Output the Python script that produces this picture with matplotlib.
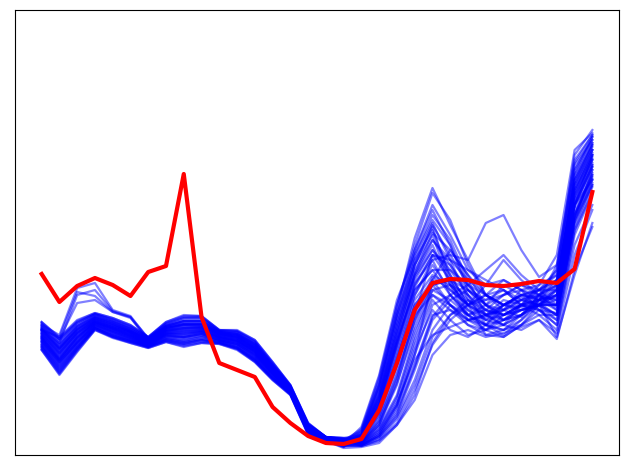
import numpy as np
import matplotlib
matplotlib.use("Agg")
import matplotlib.pyplot as plt

# time steps (32 samples)
steps = np.arange(32)

# target series (height units)
target = [181, 153, 169, 177, 170, 159, 183, 189, 281, 138, 92, 85, 78, 48, 32, 19,
          12, 11, 16, 45, 92, 145, 172, 176, 175, 170, 169, 171, 174, 172, 186, 263]

# ensemble of simulated runs
blue_runs = [
    [105, 80, 103, 125, 117, 112, 107, 113, 108, 112, 111, 105, 93, 75, 60, 20, 14, 7,
     8, 12, 30, 55, 100, 120, 125, 118, 122, 128, 135, 116, 185, 228],
    [106, 82, 105, 126, 118, 113, 108, 114, 110, 113, 112, 106, 94, 76, 61, 21, 14, 8,
     25, 75, 150, 210, 262, 235, 190, 160, 150, 160, 165, 180, 280, 312],
    [108, 84, 106, 127, 119, 114, 108, 115, 111, 115, 112, 107, 95, 77, 61, 22, 15, 9,
     10, 18, 38, 75, 125, 150, 140, 125, 118, 130, 145, 130, 210, 250],
    [109, 86, 108, 127, 120, 115, 109, 116, 113, 116, 113, 108, 96, 77, 62, 22, 15, 10,
     15, 45, 100, 160, 190, 165, 150, 140, 155, 150, 155, 160, 260, 295],
    [110, 88, 109, 128, 121, 115, 109, 117, 114, 118, 114, 109, 97, 78, 62, 23, 15, 10,
     9, 15, 32, 65, 110, 135, 150, 160, 165, 150, 140, 125, 220, 262],
    [112, 90, 111, 129, 122, 116, 110, 118, 116, 119, 114, 110, 98, 80, 62, 23, 15, 11,
     28, 80, 155, 200, 240, 215, 175, 140, 135, 145, 150, 165, 270, 305],
    [113, 92, 113, 130, 123, 117, 110, 119, 118, 121, 115, 111, 99, 81, 63, 24, 15, 11,
     14, 40, 90, 150, 175, 150, 130, 125, 135, 145, 150, 150, 245, 285],
    [115, 94, 114, 131, 124, 118, 111, 120, 119, 122, 116, 112, 101, 82, 63, 25, 16, 12,
     10, 20, 45, 90, 140, 145, 130, 120, 125, 135, 150, 140, 230, 270],
    [116, 95, 116, 132, 125, 119, 111, 121, 121, 123, 117, 113, 102, 82, 64, 25, 16, 12,
     22, 70, 140, 195, 225, 180, 150, 170, 195, 175, 160, 170, 275, 310],
    [118, 97, 117, 132, 126, 120, 112, 122, 122, 124, 117, 114, 103, 83, 64, 26, 16, 12,
     16, 50, 110, 170, 200, 175, 145, 135, 150, 160, 158, 155, 250, 290],
    [119, 99, 119, 133, 127, 121, 112, 123, 124, 125, 118, 115, 104, 84, 65, 26, 16, 12,
     12, 25, 55, 110, 155, 135, 120, 125, 140, 150, 145, 135, 235, 275],
    [126, 112, 160, 165, 144, 138, 113, 124, 125, 126, 118, 115, 104, 84, 65, 26, 16, 12,
     20, 60, 125, 185, 215, 190, 165, 150, 160, 165, 160, 170, 265, 300],
    [120, 101, 121, 134, 128, 122, 113, 124, 126, 127, 119, 116, 105, 85, 66, 27, 17, 13,
     18, 55, 115, 165, 185, 160, 140, 150, 170, 160, 155, 165, 255, 295],
    [122, 103, 122, 135, 129, 123, 114, 125, 127, 128, 120, 117, 106, 86, 66, 27, 17, 13,
     11, 22, 50, 100, 150, 160, 145, 130, 120, 135, 155, 145, 240, 280],
    [123, 105, 124, 136, 130, 123, 114, 126, 129, 129, 121, 118, 107, 87, 67, 28, 17, 14,
     26, 78, 150, 205, 250, 220, 185, 170, 175, 165, 155, 175, 285, 318],
    [130, 120, 167, 172, 145, 139, 116, 127, 130, 130, 121, 118, 107, 87, 67, 28, 17, 14,
     17, 48, 105, 160, 195, 200, 195, 232, 240, 205, 178, 190, 290, 315],
    [125, 107, 125, 137, 131, 124, 115, 127, 130, 131, 122, 119, 108, 87, 67, 29, 17, 14,
     15, 42, 95, 155, 180, 170, 160, 145, 140, 150, 160, 155, 250, 288],
    [126, 108, 127, 138, 132, 125, 115, 128, 132, 132, 122, 120, 110, 88, 68, 29, 17, 15,
     10, 18, 40, 85, 135, 155, 165, 150, 140, 145, 150, 135, 225, 262],
    [127, 110, 129, 139, 133, 126, 116, 129, 134, 134, 123, 121, 111, 89, 68, 30, 18, 15,
     24, 72, 145, 217, 267, 230, 195, 160, 145, 155, 165, 185, 300, 325],
    [128, 116, 152, 155, 143, 137, 116, 129, 134, 134, 123, 121, 111, 89, 68, 30, 18, 15,
     13, 35, 80, 135, 170, 175, 165, 155, 160, 170, 165, 150, 240, 280],
    [129, 112, 130, 140, 134, 127, 117, 130, 135, 135, 124, 122, 112, 90, 69, 30, 18, 16,
     16, 52, 115, 175, 205, 185, 160, 140, 130, 140, 155, 160, 260, 298],
    [130, 114, 132, 141, 135, 128, 117, 131, 137, 137, 124, 123, 113, 91, 69, 31, 18, 16,
     9, 14, 30, 60, 112, 140, 155, 145, 135, 140, 150, 118, 180, 232],
    [132, 116, 133, 141, 136, 129, 118, 132, 138, 138, 125, 124, 114, 92, 70, 31, 18, 17,
     20, 65, 135, 190, 230, 200, 170, 185, 200, 180, 165, 175, 270, 310],
    [133, 118, 135, 142, 137, 130, 118, 133, 140, 139, 125, 125, 115, 93, 70, 32, 18, 17,
     17, 55, 120, 180, 210, 170, 150, 155, 165, 150, 150, 155, 255, 292],
    [125, 118, 163, 159, 143, 138, 117, 128, 131, 131, 122, 120, 109, 88, 68, 29, 17, 15,
     12, 28, 60, 120, 165, 155, 140, 130, 125, 130, 140, 140, 235, 270],
    [117, 96, 118, 133, 126, 120, 112, 122, 123, 124, 118, 114, 103, 83, 64, 25, 16, 12,
     13, 30, 70, 130, 170, 175, 155, 140, 145, 155, 150, 140, 235, 285],
    [114, 93, 112, 130, 124, 118, 110, 120, 118, 121, 115, 111, 100, 81, 63, 24, 15, 11,
     19, 60, 130, 180, 215, 195, 175, 160, 150, 160, 165, 165, 265, 300],
    [121, 102, 122, 135, 128, 122, 113, 125, 127, 128, 120, 117, 106, 86, 66, 27, 17, 13,
     14, 38, 85, 140, 160, 145, 135, 140, 150, 145, 150, 150, 250, 288],
    [124, 106, 126, 137, 131, 124, 115, 127, 131, 130, 121, 119, 108, 87, 67, 28, 17, 14,
     11, 24, 52, 95, 120, 128, 135, 140, 145, 138, 160, 148, 240, 282],
    [110, 87, 108, 127, 120, 114, 109, 116, 113, 116, 113, 108, 96, 78, 62, 22, 15, 10,
     21, 68, 140, 200, 235, 210, 170, 150, 140, 150, 155, 190, 295, 320],
    [105, 81, 104, 125, 118, 112, 107, 113, 109, 112, 111, 106, 93, 75, 60, 21, 14, 8,
     18, 58, 125, 190, 228, 175, 140, 130, 135, 150, 170, 200, 305, 322],
    [108, 85, 107, 127, 119, 114, 108, 115, 112, 115, 112, 107, 95, 77, 61, 22, 15, 9,
     12, 30, 75, 140, 200, 190, 160, 130, 125, 140, 160, 175, 265, 305],
    [111, 89, 110, 128, 121, 116, 109, 117, 115, 118, 114, 109, 97, 79, 62, 23, 15, 10,
     10, 20, 48, 100, 175, 205, 180, 150, 135, 140, 150, 160, 250, 300],
    [114, 93, 113, 130, 123, 117, 110, 119, 118, 121, 115, 111, 100, 81, 63, 24, 15, 11,
     20, 62, 130, 190, 220, 170, 135, 130, 145, 165, 170, 180, 285, 315],
    [117, 96, 117, 132, 126, 119, 111, 121, 121, 123, 117, 113, 102, 82, 64, 25, 16, 12,
     11, 22, 50, 105, 145, 125, 118, 130, 150, 160, 155, 150, 250, 275],
    [119, 100, 120, 133, 127, 121, 112, 123, 125, 126, 118, 115, 104, 84, 65, 26, 16, 12,
     15, 48, 108, 168, 200, 195, 185, 175, 165, 155, 150, 160, 262, 302],
    [122, 104, 123, 135, 129, 123, 114, 125, 128, 128, 120, 117, 106, 86, 66, 27, 17, 13,
     13, 34, 78, 135, 178, 165, 150, 160, 175, 165, 145, 130, 225, 268],
    [125, 107, 126, 137, 131, 124, 115, 127, 131, 131, 122, 119, 109, 88, 67, 29, 17, 14,
     23, 70, 142, 205, 245, 210, 165, 145, 140, 145, 150, 165, 275, 308],
    [128, 111, 129, 139, 133, 126, 116, 129, 134, 134, 123, 121, 111, 89, 68, 30, 18, 15,
     12, 26, 58, 115, 160, 150, 135, 125, 130, 150, 165, 175, 275, 312],
    [131, 115, 132, 141, 135, 128, 117, 131, 137, 137, 124, 123, 113, 91, 69, 31, 18, 16,
     16, 50, 112, 172, 195, 160, 140, 145, 160, 170, 160, 145, 240, 278],
    [107, 83, 106, 126, 118, 113, 108, 114, 111, 114, 112, 107, 94, 76, 61, 21, 14, 9,
     9, 16, 36, 70, 118, 140, 150, 140, 130, 125, 135, 122, 200, 245],
    [116, 95, 115, 131, 125, 119, 111, 121, 120, 123, 116, 113, 101, 82, 64, 25, 16, 12,
     17, 52, 112, 165, 185, 185, 170, 150, 145, 150, 155, 170, 280, 318],
    [121, 102, 122, 134, 128, 122, 113, 124, 127, 127, 120, 116, 106, 86, 66, 27, 17, 13,
     21, 66, 135, 195, 232, 195, 155, 135, 130, 140, 155, 158, 258, 296],
    [126, 109, 128, 138, 133, 126, 116, 129, 133, 133, 123, 121, 110, 89, 68, 29, 18, 15,
     10, 19, 42, 88, 138, 160, 170, 160, 150, 148, 152, 140, 232, 272],
    [133, 117, 134, 142, 137, 130, 118, 133, 139, 139, 125, 124, 115, 93, 70, 32, 18, 17,
     14, 44, 98, 150, 170, 150, 135, 138, 150, 158, 150, 150, 250, 290],
    [118, 98, 118, 133, 127, 120, 112, 122, 123, 125, 118, 114, 104, 84, 65, 26, 16, 12,
     19, 58, 122, 178, 205, 180, 150, 120, 118, 130, 150, 168, 270, 305],
    [124, 106, 125, 136, 130, 124, 115, 126, 130, 130, 121, 118, 108, 87, 67, 28, 17, 14,
     18, 54, 118, 182, 222, 205, 180, 160, 150, 155, 160, 185, 292, 320],
    [113, 91, 112, 129, 123, 117, 110, 119, 117, 120, 115, 111, 99, 80, 63, 24, 15, 11,
     13, 32, 72, 125, 165, 170, 150, 135, 140, 150, 145, 142, 238, 276],
]

fig = plt.figure(figsize=(6.3, 4.7), dpi=100)
ax = fig.add_axes([15 / 630, 15 / 470, 604 / 630, 445 / 470])

for run in blue_runs:
    ax.plot(steps, run, color="b", alpha=0.5, linewidth=1.6)
ax.plot(steps, target, color="r", linewidth=3)

ax.set_xlim(-1.5, 32.5)
ax.set_ylim(0, 445)
ax.set_xticks([])
ax.set_yticks([])

fig.savefig("out.png", dpi=100)
